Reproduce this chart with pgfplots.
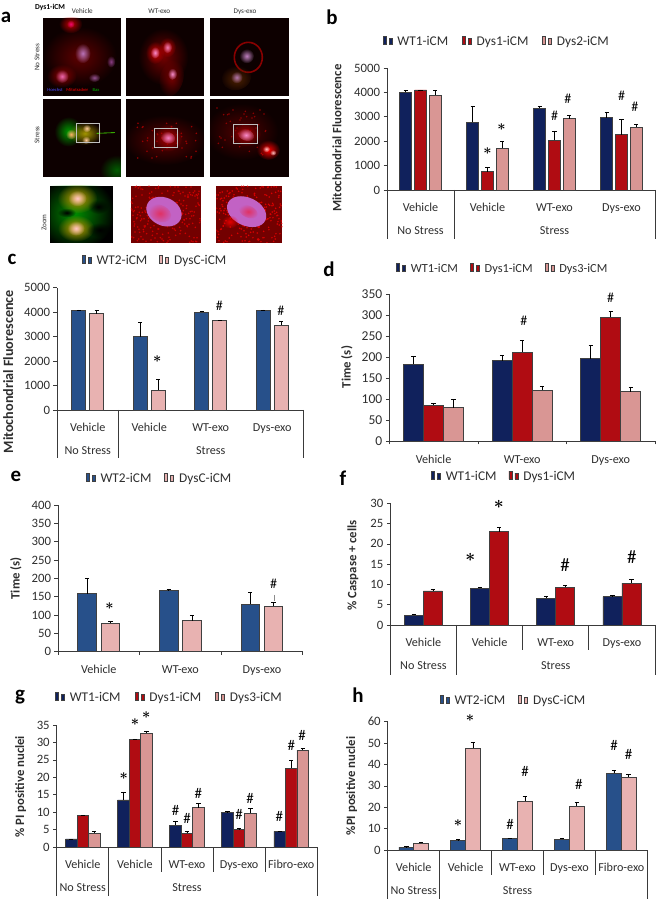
\documentclass[border=0pt]{standalone}
\usepackage{fontspec}
\setmainfont{Carlito}
\usepackage{pgfplots}
\pgfplotsset{compat=1.18}
\usetikzlibrary{fadings}

\definecolor{navy}{HTML}{10215C}
\definecolor{dred}{HTML}{B00C12}
\definecolor{dpink}{HTML}{D99694}
\definecolor{wtblue}{HTML}{27508A}
\definecolor{lpink}{HTML}{E8B2B1}
\definecolor{axisc}{HTML}{3A3A3A}
\definecolor{txtc}{HTML}{2E2E2E}
\definecolor{nucl}{HTML}{C262C4}

\newcommand{\fs}[1]{\fontsize{#1}{#1}\selectfont}
\newcommand{\lgap}{\hspace*{3bp}}
\tikzfading[name=fuzz, inner color=transparent!0, outer color=transparent!100]

% blurred cell blob for the micrographs: x y rx ry rot colour opacity
\newcommand{\blob}[7]{\fill[#6, fill opacity=#7, path fading=fuzz, rotate around={#5:(#1,#2)}] (#1,#2) ellipse [x radius=#3, y radius=#4];}
% speckle over a box: x0 y0 w h count colour
\newcommand{\speck}[6]{\foreach \i in {1,...,#5}{
  \pgfmathsetmacro{\sx}{#1+mod(\i*73,#3)}\pgfmathsetmacro{\sy}{#2+mod(mod(\i,53)*mod(\i,41)*3+\i*31,#4)}
  \fill[#6] (\sx,\sy) circle [radius=2.6];}}

% sig marks and brackets under the axis
\newcommand{\mk}[3]{\node[font=\fs{\mksize}, text=black, inner sep=0pt] at (axis cs:#1,#2) {#3};}
\newcommand{\st}{{\boldmath$\ast$}}
\newcommand{\dv}[2]{\draw[axisc, line width=0.7bp] (axis cs:#1,0) -- ([yshift=-#2 bp]axis cs:#1,0);}
\newcommand{\gl}[3]{\node[font=\fs{12.2}, text=txtc, inner sep=0pt] at ([yshift=-#2 bp]axis cs:#1,0) {#3};}
\newcommand{\mksize}{14}

\pgfplotsset{
  panel/.style={
    scale only axis, clip=false, ymin=0, ybar,
    axis x line*=bottom, axis y line*=left,
    axis line style={draw=axisc, line width=0.7bp, -},
    tick style={draw=axisc, line width=0.7bp},
    major tick length=3.5bp, x tick style={draw=none},
    minor tick length=3bp,
    tick align=outside,
    tick label style={text=txtc},
    y tick label style={font=\fs{12.8}, /pgf/number format/1000 sep={}, /pgf/number format/assume math mode=true},
    x tick label style={font=\fs{12.2}, anchor=center, text height=8bp, text depth=2bp, inner sep=0pt},
    xtick=data, scaled y ticks=false,
    label style={font=\fs{12.8}\bfseries, text=txtc},
    legend columns=-1, legend cell align=left,
    legend image code/.code={\draw[##1, draw=black!70, line width=0.5bp] (0bp,-4.5bp) rectangle (10bp,4.5bp);},
    every axis plot/.append style={draw=black!75, line width=0.8bp,
      error bars/y dir=plus, error bars/y explicit,
      error bars/error bar style={draw=black, line width=0.7bp},
      error bars/error mark options={draw=black, rotate=90, mark size=2.2bp, line width=0.7bp}},
  },
  lg/.style n args={4}{legend style={draw=none, fill=none, inner sep=0pt, font=\fs{#4}, text=txtc, at={(#1,#2)}, anchor=west,
      /tikz/every even column/.append style={column sep=#3bp}}},
  yl/.style n args={2}{y label style={at={(axis description cs:#1,#2)}, anchor=center}},
}

\begin{document}
\begin{tikzpicture}
\useasboundingbox (0,0) rectangle (660bp,908bp);

% panel a: micrographs
\begin{scope}[shift={(0,908bp)}, x=0.33333bp, y=-0.33333bp]
  \foreach \xa/\xb in {128/363,378/613,630/867}{
    \fill[black!95!red] (\xa,53) rectangle (\xb,287);
    \fill[black!95!red] (\xa,297) rectangle (\xb,530);
  }
  \begin{scope}
    \clip (128,53) rectangle (363,287);
    \blob{240}{170}{110}{90}{0}{red!45!black}{0.8}
    \blob{212}{72}{35}{28}{0}{red!75!black}{1}
    \blob{185}{228}{45}{35}{0}{red!55!black}{1}
    \blob{248}{160}{24}{30}{0}{violet!55!white}{1}
    \blob{186}{229}{20}{20}{0}{magenta!55!white}{0.9}
    \blob{212}{72}{12}{12}{0}{magenta!70!red}{1}
    \blob{283}{233}{18}{13}{0}{violet!60!white}{0.8}
    \blob{333}{185}{13}{18}{0}{violet!70!white}{0.8}
  \end{scope}
  \node[font=\fs{4.6}, text=blue!70!white, inner sep=0pt] at (165,271) {Hoechst};
  \node[font=\fs{4.6}, text=red, inner sep=0pt] at (232,271) {Mitotracker};
  \node[font=\fs{4.6}, text=green!70!black, inner sep=0pt] at (288,271) {Bax};
  \begin{scope}
    \clip (378,53) rectangle (613,287);
    \blob{490}{170}{75}{85}{0}{red!50!black}{0.9}
    \blob{515}{235}{35}{55}{-15}{red!45!black}{1}
    \blob{465}{158}{28}{34}{0}{red!85!black}{0.9}
    \blob{502}{142}{26}{30}{0}{red!85!black}{0.8}
    \blob{465}{158}{14}{18}{0}{magenta!45!white}{1}
    \blob{502}{142}{14}{18}{0}{magenta!45!white}{0.9}
    \blob{517}{222}{14}{18}{0}{magenta!45!white}{1}
  \end{scope}
  \begin{scope}
    \clip (630,53) rectangle (867,287);
    \draw[red!70!black, line width=1.6bp, opacity=0.75] (745,172) ellipse [x radius=42, y radius=45];
    \blob{710}{232}{45}{38}{20}{green!30!red!45!black}{1}
    \blob{710}{232}{18}{18}{0}{violet!50!white}{0.9}
    \blob{740}{168}{22}{22}{0}{violet!50!white}{1}
  \end{scope}
  \begin{scope}
    \clip (128,297) rectangle (363,530);
    \blob{350}{510}{50}{45}{0}{green!40!black}{0.9}
    \blob{205}{395}{42}{45}{0}{green!60!black}{1}
    \blob{255}{400}{50}{35}{0}{orange!70!green}{0.9}
    \blob{213}{403}{16}{16}{0}{orange!60!white}{1}
    \blob{260}{385}{13}{12}{0}{orange!40!white}{1}
    \blob{258}{420}{13}{12}{0}{orange!40!white}{1}
    \draw[green!70!yellow, line width=0.6bp] (290,400) -- (345,398);
    \draw[white!75!black, line width=0.9bp] (228,371) rectangle (298,428);
  \end{scope}
  \begin{scope}
    \clip (378,297) rectangle (613,530);
    \blob{495}{420}{125}{75}{0}{red!40!black}{0.9}
    \speck{400}{370}{190}{110}{40}{red!60!black}
    \blob{505}{413}{42}{42}{0}{red!70!black}{0.9}
    \blob{504}{413}{22}{17}{-20}{magenta!50!white}{1}
    \draw[white!75!black, line width=0.9bp] (462,385) rectangle (533,443);
  \end{scope}
  \begin{scope}
    \clip (630,297) rectangle (867,530);
    \blob{725}{395}{110}{85}{0}{red!35!black}{0.9}
    \speck{650}{320}{150}{150}{40}{red!55!black}
    \blob{738}{403}{45}{36}{0}{red!70!black}{0.9}
    \blob{738}{405}{25}{17}{-20}{magenta!45!white}{1}
    \blob{805}{450}{35}{30}{0}{red}{1}
    \blob{799}{447}{11}{10}{0}{pink}{1}
    \blob{819}{458}{10}{9}{0}{pink}{1}
    \draw[white!75!black, line width=0.9bp] (700,374) rectangle (772,431);
  \end{scope}
  \fill[black] (151,558) rectangle (340,729);
  \begin{scope}
    \clip (151,558) rectangle (340,729);
    \blob{225}{640}{120}{110}{0}{green!55!black}{1}
    \blob{232}{595}{60}{45}{0}{orange!80!green}{1}
    \blob{228}{685}{55}{40}{0}{orange!80!green}{1}
    \blob{232}{595}{28}{24}{0}{pink!90!white}{1}
    \blob{228}{685}{26}{22}{0}{pink!90!white}{1}
    \blob{200}{638}{28}{14}{0}{black}{1}
    \blob{295}{620}{32}{22}{0}{black}{1}
    \blob{300}{690}{40}{22}{0}{black}{1}
  \end{scope}
  \fill[red!45!black] (393,558) rectangle (602,729);
  \begin{scope}
    \clip (393,558) rectangle (602,729);
    \speck{393}{558}{209}{171}{220}{red!80!black}
    \fill[nucl, rotate around={-25:(492,635)}] (492,635) ellipse [x radius=55, y radius=42];
    \blob{480}{640}{35}{25}{-25}{red!70!nucl}{0.7}
  \end{scope}
  \fill[red!45!black] (649,558) rectangle (847,729);
  \begin{scope}
    \clip (649,558) rectangle (847,729);
    \speck{649}{558}{198}{171}{220}{red!85!black}
    \fill[nucl, rotate around={-25:(740,635)}] (740,635) ellipse [x radius=62, y radius=42];
    \blob{745}{635}{30}{18}{-25}{red!70!nucl}{0.7}
    \blob{690}{665}{25}{20}{0}{red}{0.8}
  \end{scope}
  \node[font=\fs{7.6}\bfseries, text=black, inner sep=0pt] at (150,23) {Dys1-iCM};
  \node[font=\fs{7.2}, text=txtc, inner sep=0pt] at (247,34) {Vehicle};
  \node[font=\fs{7.2}, text=txtc, inner sep=0pt] at (478,34) {WT-exo};
  \node[font=\fs{7.2}, text=txtc, inner sep=0pt] at (735,34) {Dys-exo};
  \node[font=\fs{7.2}, text=txtc, inner sep=0pt, rotate=90] at (111,172) {No Stress};
  \node[font=\fs{7.2}, text=txtc, inner sep=0pt, rotate=90] at (111,405) {Stress};
  \node[font=\fs{7.2}, text=txtc, inner sep=0pt, rotate=90] at (132,668) {Zoom};
\end{scope}

% panel letters
\begin{scope}[shift={(0,908bp)}, x=1bp, y=-1bp]
  \foreach \l/\px/\py in {a/6/17,b/332/17,c/12/259,d/329/269,e/16/476,f/343/478,g/20/697,h/358/695}
    \node[font=\fs{21}\bfseries, text=black, inner sep=0pt] at (\px,\py) {\l};
\end{scope}

% panel b
\begin{axis}[panel, at={(387bp,718bp)}, anchor=south west, width=268bp, height=122bp,
  xmin=-0.5, xmax=3.5, ymax=5000, ytick={0,1000,...,5000},
  bar width=12bp, ybar=2.7bp, xticklabels={Vehicle,Vehicle,WT-exo,Dys-exo},
  x tick label style={yshift=-15bp},
  ylabel={Mitochondrial Fluorescence}, yl={-0.187}{0.426}, lg={-0.017}{1.213}{11.7}{13.4}]
\addplot[fill=navy] coordinates {(0,4000) +- (0,70) (1,2770) +- (0,650) (2,3350) +- (0,70) (3,2970) +- (0,230)};
\addplot[fill=dred] coordinates {(0,4100) +- (0,0) (1,750) +- (0,190) (2,2030) +- (0,390) (3,2260) +- (0,620)};
\addplot[fill=dpink] coordinates {(0,3880) +- (0,190) (1,1720) +- (0,270) (2,2920) +- (0,140) (3,2570) +- (0,110)};
\legend{\lgap WT1-iCM,\lgap Dys1-iCM,\lgap Dys2-iCM}
\mk{1.0}{1603}{\st}\mk{1.21}{2575}{\st}\mk{2.0}{3055}{\#}\mk{2.2}{3740}{\#}\mk{3.0}{3850}{\#}\mk{3.2}{3425}{\#}
\dv{-0.5}{49}\dv{0.5}{49}\dv{3.5}{49}
\gl{0}{41}{No Stress}\gl{2}{41}{Stress}
\end{axis}

% panel c
\begin{axis}[panel, at={(57bp,498bp)}, anchor=south west, width=246bp, height=122.3bp,
  xmin=-0.5, xmax=3.5, ymax=5000, ytick={0,1000,...,5000},
  bar width=14bp, ybar=4bp, xticklabels={Vehicle,Vehicle,WT-exo,Dys-exo},
  x tick label style={yshift=-15bp},
  ylabel={Mitochondrial Fluorescence}, y label style={font=\fs{14.2}\bfseries}, yl={-0.198}{0.313}, lg={0.10}{1.218}{10}{13.4}]
\addplot[fill=wtblue] coordinates {(0,4080) +- (0,10) (1,3000) +- (0,597) (2,4000) +- (0,30) (3,4080) +- (0,10)};
\addplot[fill=lpink] coordinates {(0,3930) +- (0,150) (1,800) +- (0,470) (2,3660) +- (0,10) (3,3470) +- (0,150)};
\legend{\lgap WT2-iCM,\lgap DysC-iCM}
\mk{1.13}{2084}{\st}\mk{2.14}{4250}{\#}\mk{3.14}{4060}{\#}
\dv{-0.5}{48}\dv{0.5}{48}\dv{3.5}{48}
\gl{0}{41}{No Stress}\gl{2}{41}{Stress}
\end{axis}

% panel d
\begin{axis}[panel, at={(389.3bp,466.7bp)}, anchor=south west, width=265.7bp, height=147bp,
  xmin=-0.5, xmax=2.5, ymax=350, ytick={0,50,...,350},
  bar width=20bp, ybar=0bp, xticklabels={Vehicle,WT-exo,Dys-exo},
  minor xtick={-0.5,0.5,1.5,2.5}, minor x tick style={draw=axisc, line width=0.7bp},
  y tick label style={font=\fs{13.6}}, x tick label style={yshift=-16bp},
  ylabel={Time (s)}, yl={-0.16}{0.505}, lg={0.025}{1.172}{10}{12.4}]
\addplot[fill=navy] coordinates {(0,183) +- (0,20) (1,192) +- (0,13) (2,197) +- (0,31)};
\addplot[fill=dred] coordinates {(0,86) +- (0,4) (1,212) +- (0,29) (2,295) +- (0,14)};
\addplot[fill=dpink] coordinates {(0,80) +- (0,20) (1,122) +- (0,10) (2,118) +- (0,11)};
\legend{\lgap WT1-iCM,\lgap Dys1-iCM,\lgap Dys3-iCM}
\mk{1.02}{288}{\#}\mk{2.0}{342}{\#}
\end{axis}

% panel e
\begin{axis}[panel, at={(58bp,256.3bp)}, anchor=south west, width=244.7bp, height=146.7bp,
  xmin=-0.5, xmax=2.5, ymax=400, ytick={0,50,...,400},
  bar width=18.5bp, ybar=4.8bp, xticklabels={Vehicle,WT-exo,Dys-exo},
  minor xtick={-0.5,0.5,1.5,2.5}, minor x tick style={draw=axisc, line width=0.7bp},
  x tick label style={yshift=-15bp},
  ylabel={Time (s)}, yl={-0.172}{0.5}, lg={0.113}{1.177}{11}{13.4}]
\addplot[fill=wtblue] coordinates {(0,158) +- (0,41) (1,166) +- (0,4) (2,130) +- (0,33)};
\addplot[fill=lpink] coordinates {(0,78) +- (0,5) (1,85) +- (0,13) (2,124) +- (0,11)};
\legend{\lgap WT2-iCM,\lgap DysC-iCM}
\mk{0.13}{125}{\st}\mk{2.144}{186}{\#}
\draw[black!45, line width=0.5bp] (axis cs:2.15,155) -- (axis cs:2.15,137);
\end{axis}

% panel f
\begin{axis}[panel, at={(390.3bp,283bp)}, anchor=south west, width=264.7bp, height=121.7bp,
  xmin=-0.5, xmax=3.5, ymax=30, ytick={0,5,...,30},
  bar width=19bp, ybar=0bp, xticklabels={Vehicle,Vehicle,WT-exo,Dys-exo},
  x tick label style={yshift=-15bp},
  ylabel={\% Caspase + cells}, yl={-0.141}{0.49}, lg={0.153}{1.216}{10}{13.4}]
\addplot[fill=navy] coordinates {(0,2.4) +- (0,0.2) (1,9) +- (0,0.4) (2,6.6) +- (0,0.4) (3,7) +- (0,0.25)};
\addplot[fill=dred] coordinates {(0,8.4) +- (0,0.5) (1,23) +- (0,1) (2,9.3) +- (0,0.5) (3,10.3) +- (0,0.95)};
\legend{\lgap WT1-iCM,\lgap Dys1-iCM}
\renewcommand{\mksize}{19}
\mk{0.709}{16.7}{\st}\mk{1.14}{29.75}{\st}\mk{2.14}{14.7}{\#}\mk{3.15}{16.8}{\#}
\dv{-0.5}{50}\dv{0.5}{50}\dv{1.5}{25}\dv{2.5}{25}\dv{3.5}{50}
\gl{0}{41}{No Stress}\gl{2}{41}{Stress}
\end{axis}

% panel g
\begin{axis}[panel, at={(56.7bp,61bp)}, anchor=south west, width=260.6bp, height=122bp,
  xmin=-0.5, xmax=4.5, ymax=35, ytick={0,5,...,35},
  bar width=11.5bp, ybar=0bp, xticklabels={Vehicle,Vehicle,WT-exo,Dys-exo,Fibro-exo},
  x tick label style={yshift=-15bp},
  ylabel={\% PI positive nuclei}, yl={-0.138}{0.494}, lg={-0.007}{1.221}{12}{13.4}]
\addplot[fill=navy] coordinates {(0,2.3) +- (0,0) (1,13.5) +- (0,2.3) (2,6.3) +- (0,1) (3,9.8) +- (0,0.5) (4,4.5) +- (0,0)};
\addplot[fill=dred] coordinates {(0,9.1) +- (0,0) (1,30.8) +- (0,0.2) (2,4) +- (0,0.5) (3,5) +- (0,0.3) (4,22.6) +- (0,2.2)};
\addplot[fill=dpink] coordinates {(0,4) +- (0,0.6) (1,32.7) +- (0,0.6) (2,11.3) +- (0,1.1) (3,9.7) +- (0,1.3) (4,27.8) +- (0,0.6)};
\legend{\lgap WT1-iCM,\lgap Dys1-iCM,\lgap Dys3-iCM}
\renewcommand{\mksize}{15}
\mk{0.785}{20.2}{\st}\mk{1.0}{35.8}{\st}\mk{1.22}{37.9}{\st}
\mk{1.78}{10.6}{\#}\mk{2.0}{8.2}{\#}\mk{2.22}{15.5}{\#}\mk{3.0}{9.4}{\#}\mk{3.21}{13.9}{\#}
\mk{3.77}{8.7}{\#}\mk{4.0}{29}{\#}\mk{4.21}{31.9}{\#}
\dv{-0.5}{49}\dv{0.5}{49}\dv{1.5}{25}\dv{2.5}{25}\dv{3.5}{25}\dv{4.5}{49}
\gl{0}{41}{No Stress}\gl{2}{41}{Stress}
\end{axis}

% panel h
\begin{axis}[panel, at={(387.7bp,58bp)}, anchor=south west, width=259.6bp, height=128.3bp,
  xmin=-0.5, xmax=4.5, ymax=60, ytick={0,10,...,60},
  bar width=14.7bp, ybar=0bp, xticklabels={Vehicle,Vehicle,WT-exo,Dys-exo,Fibro-exo},
  x tick label style={yshift=-15bp},
  ylabel={\%PI positive nuclei}, yl={-0.139}{0.5}, lg={0.2}{1.161}{11}{13.4}]
\addplot[fill=wtblue] coordinates {(0,1.3) +- (0,0.2) (1,4.5) +- (0,0.3) (2,5.3) +- (0,0.3) (3,5) +- (0,0.4) (4,36) +- (0,1.2)};
\addplot[fill=lpink] coordinates {(0,3.2) +- (0,0.4) (1,47.7) +- (0,2.8) (2,22.7) +- (0,2.5) (3,20.5) +- (0,1.8) (4,34) +- (0,1.4)};
\legend{\lgap WT2-iCM,\lgap DysC-iCM}
\renewcommand{\mksize}{15}
\mk{1.085}{61.6}{\st}\mk{0.854}{12.6}{\st}\mk{1.855}{12}{\#}\mk{2.144}{36.6}{\#}\mk{3.18}{30.5}{\#}\mk{3.86}{48.9}{\#}\mk{4.14}{44.7}{\#}
\dv{-0.5}{49}\dv{0.5}{49}\dv{1.5}{25}\dv{2.5}{25}\dv{3.5}{25}\dv{4.5}{49}
\gl{0}{41}{No Stress}\gl{2}{41}{Stress}
\end{axis}
\end{tikzpicture}
\end{document}
